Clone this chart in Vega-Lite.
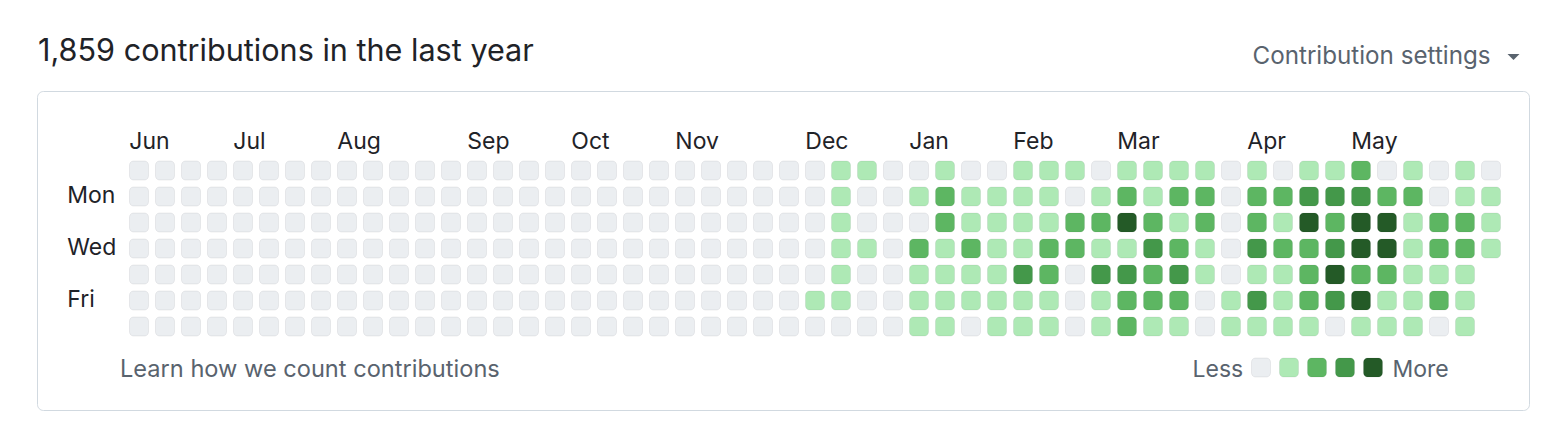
{
  "$schema": "https://vega.github.io/schema/vega-lite/v6.json",
  "width": 1552,
  "height": 428,
  "autosize": {"type": "fit", "contains": "padding"},
  "padding": 0,
  "background": "#ffffff",
  "config": {"view": {"stroke": null}, "text": {"font": "Inter"}},
  "datasets": {
    "cells": [
      {"week":0,"day":0,"level":0},{"week":0,"day":1,"level":0},{"week":0,"day":2,"level":0},{"week":0,"day":3,"level":0},{"week":0,"day":4,"level":0},{"week":0,"day":5,"level":0},{"week":0,"day":6,"level":0},
      {"week":1,"day":0,"level":0},{"week":1,"day":1,"level":0},{"week":1,"day":2,"level":0},{"week":1,"day":3,"level":0},{"week":1,"day":4,"level":0},{"week":1,"day":5,"level":0},{"week":1,"day":6,"level":0},
      {"week":2,"day":0,"level":0},{"week":2,"day":1,"level":0},{"week":2,"day":2,"level":0},{"week":2,"day":3,"level":0},{"week":2,"day":4,"level":0},{"week":2,"day":5,"level":0},{"week":2,"day":6,"level":0},
      {"week":3,"day":0,"level":0},{"week":3,"day":1,"level":0},{"week":3,"day":2,"level":0},{"week":3,"day":3,"level":0},{"week":3,"day":4,"level":0},{"week":3,"day":5,"level":0},{"week":3,"day":6,"level":0},
      {"week":4,"day":0,"level":0},{"week":4,"day":1,"level":0},{"week":4,"day":2,"level":0},{"week":4,"day":3,"level":0},{"week":4,"day":4,"level":0},{"week":4,"day":5,"level":0},{"week":4,"day":6,"level":0},
      {"week":5,"day":0,"level":0},{"week":5,"day":1,"level":0},{"week":5,"day":2,"level":0},{"week":5,"day":3,"level":0},{"week":5,"day":4,"level":0},{"week":5,"day":5,"level":0},{"week":5,"day":6,"level":0},
      {"week":6,"day":0,"level":0},{"week":6,"day":1,"level":0},{"week":6,"day":2,"level":0},{"week":6,"day":3,"level":0},{"week":6,"day":4,"level":0},{"week":6,"day":5,"level":0},{"week":6,"day":6,"level":0},
      {"week":7,"day":0,"level":0},{"week":7,"day":1,"level":0},{"week":7,"day":2,"level":0},{"week":7,"day":3,"level":0},{"week":7,"day":4,"level":0},{"week":7,"day":5,"level":0},{"week":7,"day":6,"level":0},
      {"week":8,"day":0,"level":0},{"week":8,"day":1,"level":0},{"week":8,"day":2,"level":0},{"week":8,"day":3,"level":0},{"week":8,"day":4,"level":0},{"week":8,"day":5,"level":0},{"week":8,"day":6,"level":0},
      {"week":9,"day":0,"level":0},{"week":9,"day":1,"level":0},{"week":9,"day":2,"level":0},{"week":9,"day":3,"level":0},{"week":9,"day":4,"level":0},{"week":9,"day":5,"level":0},{"week":9,"day":6,"level":0},
      {"week":10,"day":0,"level":0},{"week":10,"day":1,"level":0},{"week":10,"day":2,"level":0},{"week":10,"day":3,"level":0},{"week":10,"day":4,"level":0},{"week":10,"day":5,"level":0},{"week":10,"day":6,"level":0},
      {"week":11,"day":0,"level":0},{"week":11,"day":1,"level":0},{"week":11,"day":2,"level":0},{"week":11,"day":3,"level":0},{"week":11,"day":4,"level":0},{"week":11,"day":5,"level":0},{"week":11,"day":6,"level":0},
      {"week":12,"day":0,"level":0},{"week":12,"day":1,"level":0},{"week":12,"day":2,"level":0},{"week":12,"day":3,"level":0},{"week":12,"day":4,"level":0},{"week":12,"day":5,"level":0},{"week":12,"day":6,"level":0},
      {"week":13,"day":0,"level":0},{"week":13,"day":1,"level":0},{"week":13,"day":2,"level":0},{"week":13,"day":3,"level":0},{"week":13,"day":4,"level":0},{"week":13,"day":5,"level":0},{"week":13,"day":6,"level":0},
      {"week":14,"day":0,"level":0},{"week":14,"day":1,"level":0},{"week":14,"day":2,"level":0},{"week":14,"day":3,"level":0},{"week":14,"day":4,"level":0},{"week":14,"day":5,"level":0},{"week":14,"day":6,"level":0},
      {"week":15,"day":0,"level":0},{"week":15,"day":1,"level":0},{"week":15,"day":2,"level":0},{"week":15,"day":3,"level":0},{"week":15,"day":4,"level":0},{"week":15,"day":5,"level":0},{"week":15,"day":6,"level":0},
      {"week":16,"day":0,"level":0},{"week":16,"day":1,"level":0},{"week":16,"day":2,"level":0},{"week":16,"day":3,"level":0},{"week":16,"day":4,"level":0},{"week":16,"day":5,"level":0},{"week":16,"day":6,"level":0},
      {"week":17,"day":0,"level":0},{"week":17,"day":1,"level":0},{"week":17,"day":2,"level":0},{"week":17,"day":3,"level":0},{"week":17,"day":4,"level":0},{"week":17,"day":5,"level":0},{"week":17,"day":6,"level":0},
      {"week":18,"day":0,"level":0},{"week":18,"day":1,"level":0},{"week":18,"day":2,"level":0},{"week":18,"day":3,"level":0},{"week":18,"day":4,"level":0},{"week":18,"day":5,"level":0},{"week":18,"day":6,"level":0},
      {"week":19,"day":0,"level":0},{"week":19,"day":1,"level":0},{"week":19,"day":2,"level":0},{"week":19,"day":3,"level":0},{"week":19,"day":4,"level":0},{"week":19,"day":5,"level":0},{"week":19,"day":6,"level":0},
      {"week":20,"day":0,"level":0},{"week":20,"day":1,"level":0},{"week":20,"day":2,"level":0},{"week":20,"day":3,"level":0},{"week":20,"day":4,"level":0},{"week":20,"day":5,"level":0},{"week":20,"day":6,"level":0},
      {"week":21,"day":0,"level":0},{"week":21,"day":1,"level":0},{"week":21,"day":2,"level":0},{"week":21,"day":3,"level":0},{"week":21,"day":4,"level":0},{"week":21,"day":5,"level":0},{"week":21,"day":6,"level":0},
      {"week":22,"day":0,"level":0},{"week":22,"day":1,"level":0},{"week":22,"day":2,"level":0},{"week":22,"day":3,"level":0},{"week":22,"day":4,"level":0},{"week":22,"day":5,"level":0},{"week":22,"day":6,"level":0},
      {"week":23,"day":0,"level":0},{"week":23,"day":1,"level":0},{"week":23,"day":2,"level":0},{"week":23,"day":3,"level":0},{"week":23,"day":4,"level":0},{"week":23,"day":5,"level":0},{"week":23,"day":6,"level":0},
      {"week":24,"day":0,"level":0},{"week":24,"day":1,"level":0},{"week":24,"day":2,"level":0},{"week":24,"day":3,"level":0},{"week":24,"day":4,"level":0},{"week":24,"day":5,"level":0},{"week":24,"day":6,"level":0},
      {"week":25,"day":0,"level":0},{"week":25,"day":1,"level":0},{"week":25,"day":2,"level":0},{"week":25,"day":3,"level":0},{"week":25,"day":4,"level":0},{"week":25,"day":5,"level":0},{"week":25,"day":6,"level":0},
      {"week":26,"day":0,"level":0},{"week":26,"day":1,"level":0},{"week":26,"day":2,"level":0},{"week":26,"day":3,"level":0},{"week":26,"day":4,"level":0},{"week":26,"day":5,"level":1},{"week":26,"day":6,"level":0},
      {"week":27,"day":0,"level":1},{"week":27,"day":1,"level":1},{"week":27,"day":2,"level":1},{"week":27,"day":3,"level":1},{"week":27,"day":4,"level":1},{"week":27,"day":5,"level":1},{"week":27,"day":6,"level":0},
      {"week":28,"day":0,"level":1},{"week":28,"day":1,"level":0},{"week":28,"day":2,"level":0},{"week":28,"day":3,"level":1},{"week":28,"day":4,"level":0},{"week":28,"day":5,"level":0},{"week":28,"day":6,"level":0},
      {"week":29,"day":0,"level":0},{"week":29,"day":1,"level":0},{"week":29,"day":2,"level":0},{"week":29,"day":3,"level":0},{"week":29,"day":4,"level":0},{"week":29,"day":5,"level":0},{"week":29,"day":6,"level":0},
      {"week":30,"day":0,"level":0},{"week":30,"day":1,"level":1},{"week":30,"day":2,"level":0},{"week":30,"day":3,"level":2},{"week":30,"day":4,"level":1},{"week":30,"day":5,"level":1},{"week":30,"day":6,"level":1},
      {"week":31,"day":0,"level":1},{"week":31,"day":1,"level":2},{"week":31,"day":2,"level":2},{"week":31,"day":3,"level":1},{"week":31,"day":4,"level":1},{"week":31,"day":5,"level":1},{"week":31,"day":6,"level":1},
      {"week":32,"day":0,"level":0},{"week":32,"day":1,"level":1},{"week":32,"day":2,"level":1},{"week":32,"day":3,"level":2},{"week":32,"day":4,"level":1},{"week":32,"day":5,"level":1},{"week":32,"day":6,"level":0},
      {"week":33,"day":0,"level":0},{"week":33,"day":1,"level":1},{"week":33,"day":2,"level":1},{"week":33,"day":3,"level":1},{"week":33,"day":4,"level":1},{"week":33,"day":5,"level":1},{"week":33,"day":6,"level":1},
      {"week":34,"day":0,"level":1},{"week":34,"day":1,"level":1},{"week":34,"day":2,"level":1},{"week":34,"day":3,"level":1},{"week":34,"day":4,"level":3},{"week":34,"day":5,"level":1},{"week":34,"day":6,"level":1},
      {"week":35,"day":0,"level":1},{"week":35,"day":1,"level":1},{"week":35,"day":2,"level":1},{"week":35,"day":3,"level":2},{"week":35,"day":4,"level":2},{"week":35,"day":5,"level":1},{"week":35,"day":6,"level":1},
      {"week":36,"day":0,"level":1},{"week":36,"day":1,"level":0},{"week":36,"day":2,"level":2},{"week":36,"day":3,"level":2},{"week":36,"day":4,"level":0},{"week":36,"day":5,"level":0},{"week":36,"day":6,"level":0},
      {"week":37,"day":0,"level":0},{"week":37,"day":1,"level":1},{"week":37,"day":2,"level":2},{"week":37,"day":3,"level":1},{"week":37,"day":4,"level":3},{"week":37,"day":5,"level":1},{"week":37,"day":6,"level":1},
      {"week":38,"day":0,"level":1},{"week":38,"day":1,"level":2},{"week":38,"day":2,"level":4},{"week":38,"day":3,"level":1},{"week":38,"day":4,"level":3},{"week":38,"day":5,"level":2},{"week":38,"day":6,"level":2},
      {"week":39,"day":0,"level":1},{"week":39,"day":1,"level":1},{"week":39,"day":2,"level":2},{"week":39,"day":3,"level":3},{"week":39,"day":4,"level":2},{"week":39,"day":5,"level":2},{"week":39,"day":6,"level":1},
      {"week":40,"day":0,"level":1},{"week":40,"day":1,"level":2},{"week":40,"day":2,"level":1},{"week":40,"day":3,"level":2},{"week":40,"day":4,"level":3},{"week":40,"day":5,"level":2},{"week":40,"day":6,"level":1},
      {"week":41,"day":0,"level":1},{"week":41,"day":1,"level":2},{"week":41,"day":2,"level":2},{"week":41,"day":3,"level":1},{"week":41,"day":4,"level":1},{"week":41,"day":5,"level":0},{"week":41,"day":6,"level":0},
      {"week":42,"day":0,"level":0},{"week":42,"day":1,"level":0},{"week":42,"day":2,"level":0},{"week":42,"day":3,"level":0},{"week":42,"day":4,"level":0},{"week":42,"day":5,"level":1},{"week":42,"day":6,"level":1},
      {"week":43,"day":0,"level":1},{"week":43,"day":1,"level":2},{"week":43,"day":2,"level":2},{"week":43,"day":3,"level":3},{"week":43,"day":4,"level":1},{"week":43,"day":5,"level":3},{"week":43,"day":6,"level":1},
      {"week":44,"day":0,"level":0},{"week":44,"day":1,"level":2},{"week":44,"day":2,"level":1},{"week":44,"day":3,"level":2},{"week":44,"day":4,"level":1},{"week":44,"day":5,"level":1},{"week":44,"day":6,"level":1},
      {"week":45,"day":0,"level":1},{"week":45,"day":1,"level":3},{"week":45,"day":2,"level":4},{"week":45,"day":3,"level":2},{"week":45,"day":4,"level":2},{"week":45,"day":5,"level":2},{"week":45,"day":6,"level":1},
      {"week":46,"day":0,"level":1},{"week":46,"day":1,"level":3},{"week":46,"day":2,"level":2},{"week":46,"day":3,"level":3},{"week":46,"day":4,"level":4},{"week":46,"day":5,"level":3},{"week":46,"day":6,"level":0},
      {"week":47,"day":0,"level":2},{"week":47,"day":1,"level":3},{"week":47,"day":2,"level":4},{"week":47,"day":3,"level":4},{"week":47,"day":4,"level":2},{"week":47,"day":5,"level":4},{"week":47,"day":6,"level":1},
      {"week":48,"day":0,"level":0},{"week":48,"day":1,"level":2},{"week":48,"day":2,"level":4},{"week":48,"day":3,"level":4},{"week":48,"day":4,"level":2},{"week":48,"day":5,"level":1},{"week":48,"day":6,"level":1},
      {"week":49,"day":0,"level":1},{"week":49,"day":1,"level":2},{"week":49,"day":2,"level":1},{"week":49,"day":3,"level":1},{"week":49,"day":4,"level":1},{"week":49,"day":5,"level":1},{"week":49,"day":6,"level":1},
      {"week":50,"day":0,"level":0},{"week":50,"day":1,"level":0},{"week":50,"day":2,"level":2},{"week":50,"day":3,"level":2},{"week":50,"day":4,"level":1},{"week":50,"day":5,"level":2},{"week":50,"day":6,"level":0},
      {"week":51,"day":0,"level":1},{"week":51,"day":1,"level":1},{"week":51,"day":2,"level":2},{"week":51,"day":3,"level":2},{"week":51,"day":4,"level":1},{"week":51,"day":5,"level":1},{"week":51,"day":6,"level":1},
      {"week":52,"day":0,"level":0},{"week":52,"day":1,"level":1},{"week":52,"day":2,"level":1},{"week":52,"day":3,"level":1}
    ],
    "months": [
      {"week":0,"month":"Jun"},{"week":4,"month":"Jul"},{"week":8,"month":"Aug"},{"week":13,"month":"Sep"},
      {"week":17,"month":"Oct"},{"week":21,"month":"Nov"},{"week":26,"month":"Dec"},{"week":30,"month":"Jan"},
      {"week":34,"month":"Feb"},{"week":38,"month":"Mar"},{"week":43,"month":"Apr"},{"week":47,"month":"May"}
    ],
    "days": [{"day":1,"name":"Mon"},{"day":3,"name":"Wed"},{"day":5,"name":"Fri"}],
    "legend": [{"level":0},{"level":1},{"level":2},{"level":3},{"level":4}],
    "one": [{}]
  },
  "layer": [
    {
      "layer": [
        {
          "data": {"name": "one"},
          "mark": {"type": "rect", "fill": "transparent", "stroke": "#d1d9e0", "strokeWidth": 1, "cornerRadius": 6},
          "encoding": {
            "x": {"datum": -3.9038, "type": "quantitative", "scale": {"domain": [-5.34615, 54.34615], "nice": false, "zero": false}, "axis": null},
            "x2": {"datum": 53.4808},
            "y": {"datum": -3.0385, "type": "quantitative", "scale": {"domain": [-6.5577, 9.9038], "nice": false, "zero": false, "reverse": true}, "axis": null},
            "y2": {"datum": 9.2308}
          }
        },
        {
          "data": {"name": "cells"},
          "mark": {"type": "rect", "width": 19, "height": 19, "cornerRadius": 4, "stroke": "#1f2328", "strokeOpacity": 0.07, "strokeWidth": 1},
          "encoding": {
            "x": {"field": "week", "type": "quantitative", "scale": {"domain": [-5.34615, 54.34615], "nice": false, "zero": false}, "axis": null},
            "y": {"field": "day", "type": "quantitative", "scale": {"domain": [-6.5577, 9.9038], "nice": false, "zero": false, "reverse": true}, "axis": null},
            "color": {"field": "level", "type": "ordinal", "scale": {"domain": [0, 1, 2, 3, 4], "range": ["#ebeef1", "#aee9b5", "#5db662", "#44984a", "#245a27"]}, "legend": null}
          }
        },
        {
          "data": {"name": "months"},
          "mark": {"type": "text", "align": "left", "baseline": "alphabetic", "dx": -9.7, "fontSize": 23, "color": "#1f2328"},
          "encoding": {
            "x": {"field": "week", "type": "quantitative", "axis": null},
            "y": {"datum": -0.8154, "type": "quantitative", "axis": null},
            "text": {"field": "month"}
          }
        },
        {
          "data": {"name": "days"},
          "mark": {"type": "text", "align": "left", "baseline": "alphabetic", "dy": 6.8, "fontSize": 23, "color": "#1f2328"},
          "encoding": {
            "x": {"datum": -2.7577, "type": "quantitative", "axis": null},
            "y": {"field": "day", "type": "quantitative", "axis": null},
            "text": {"field": "name"}
          }
        },
        {
          "data": {"name": "one"},
          "mark": {"type": "text", "text": "1,859 contributions in the last year", "align": "left", "baseline": "alphabetic", "fontSize": 30.6, "color": "#1f2328"},
          "encoding": {
            "x": {"datum": -3.8846, "type": "quantitative", "axis": null},
            "y": {"datum": -4.2, "type": "quantitative", "axis": null}
          }
        },
        {
          "data": {"name": "one"},
          "mark": {"type": "text", "text": "Contribution settings", "align": "left", "baseline": "alphabetic", "fontSize": 24.2, "color": "#59636e"},
          "encoding": {
            "x": {"datum": 42.827, "type": "quantitative", "axis": null},
            "y": {"datum": -4.0962, "type": "quantitative", "axis": null}
          }
        },
        {
          "data": {"name": "one"},
          "mark": {"type": "point", "shape": "M-1,-0.5L1,-0.5L0,0.5Z", "size": 144, "filled": true, "color": "#59636e", "opacity": 1},
          "encoding": {
            "x": {"datum": 52.865, "type": "quantitative", "axis": null},
            "y": {"datum": -4.365, "type": "quantitative", "axis": null}
          }
        },
        {
          "data": {"name": "one"},
          "mark": {"type": "text", "text": "Learn how we count contributions", "align": "left", "baseline": "alphabetic", "fontSize": 23.6, "color": "#59636e"},
          "encoding": {
            "x": {"datum": -0.7308, "type": "quantitative", "axis": null},
            "y": {"datum": 7.9308, "type": "quantitative", "axis": null}
          }
        },
        {
          "data": {"name": "one"},
          "mark": {"type": "text", "text": "Less", "align": "left", "baseline": "alphabetic", "fontSize": 23, "color": "#59636e"},
          "encoding": {
            "x": {"datum": 40.5192, "type": "quantitative", "axis": null},
            "y": {"datum": 7.9308, "type": "quantitative", "axis": null}
          }
        },
        {
          "data": {"name": "one"},
          "mark": {"type": "text", "text": "More", "align": "left", "baseline": "alphabetic", "fontSize": 23, "color": "#59636e"},
          "encoding": {
            "x": {"datum": 48.2115, "type": "quantitative", "axis": null},
            "y": {"datum": 7.9308, "type": "quantitative", "axis": null}
          }
        }
      ]
    },
    {
      "data": {"name": "legend"},
      "mark": {"type": "rect", "width": 19, "height": 19, "cornerRadius": 4, "stroke": "#1f2328", "strokeOpacity": 0.07, "strokeWidth": 1},
      "encoding": {
        "x": {"field": "level", "type": "quantitative", "scale": {"domain": [-45.0357, 10.3929], "nice": false, "zero": false}, "axis": null},
        "y": {"datum": 7.5769, "type": "quantitative", "axis": null},
        "color": {"field": "level", "type": "ordinal", "legend": null}
      }
    }
  ],
  "resolve": {"scale": {"x": "independent"}}
}
